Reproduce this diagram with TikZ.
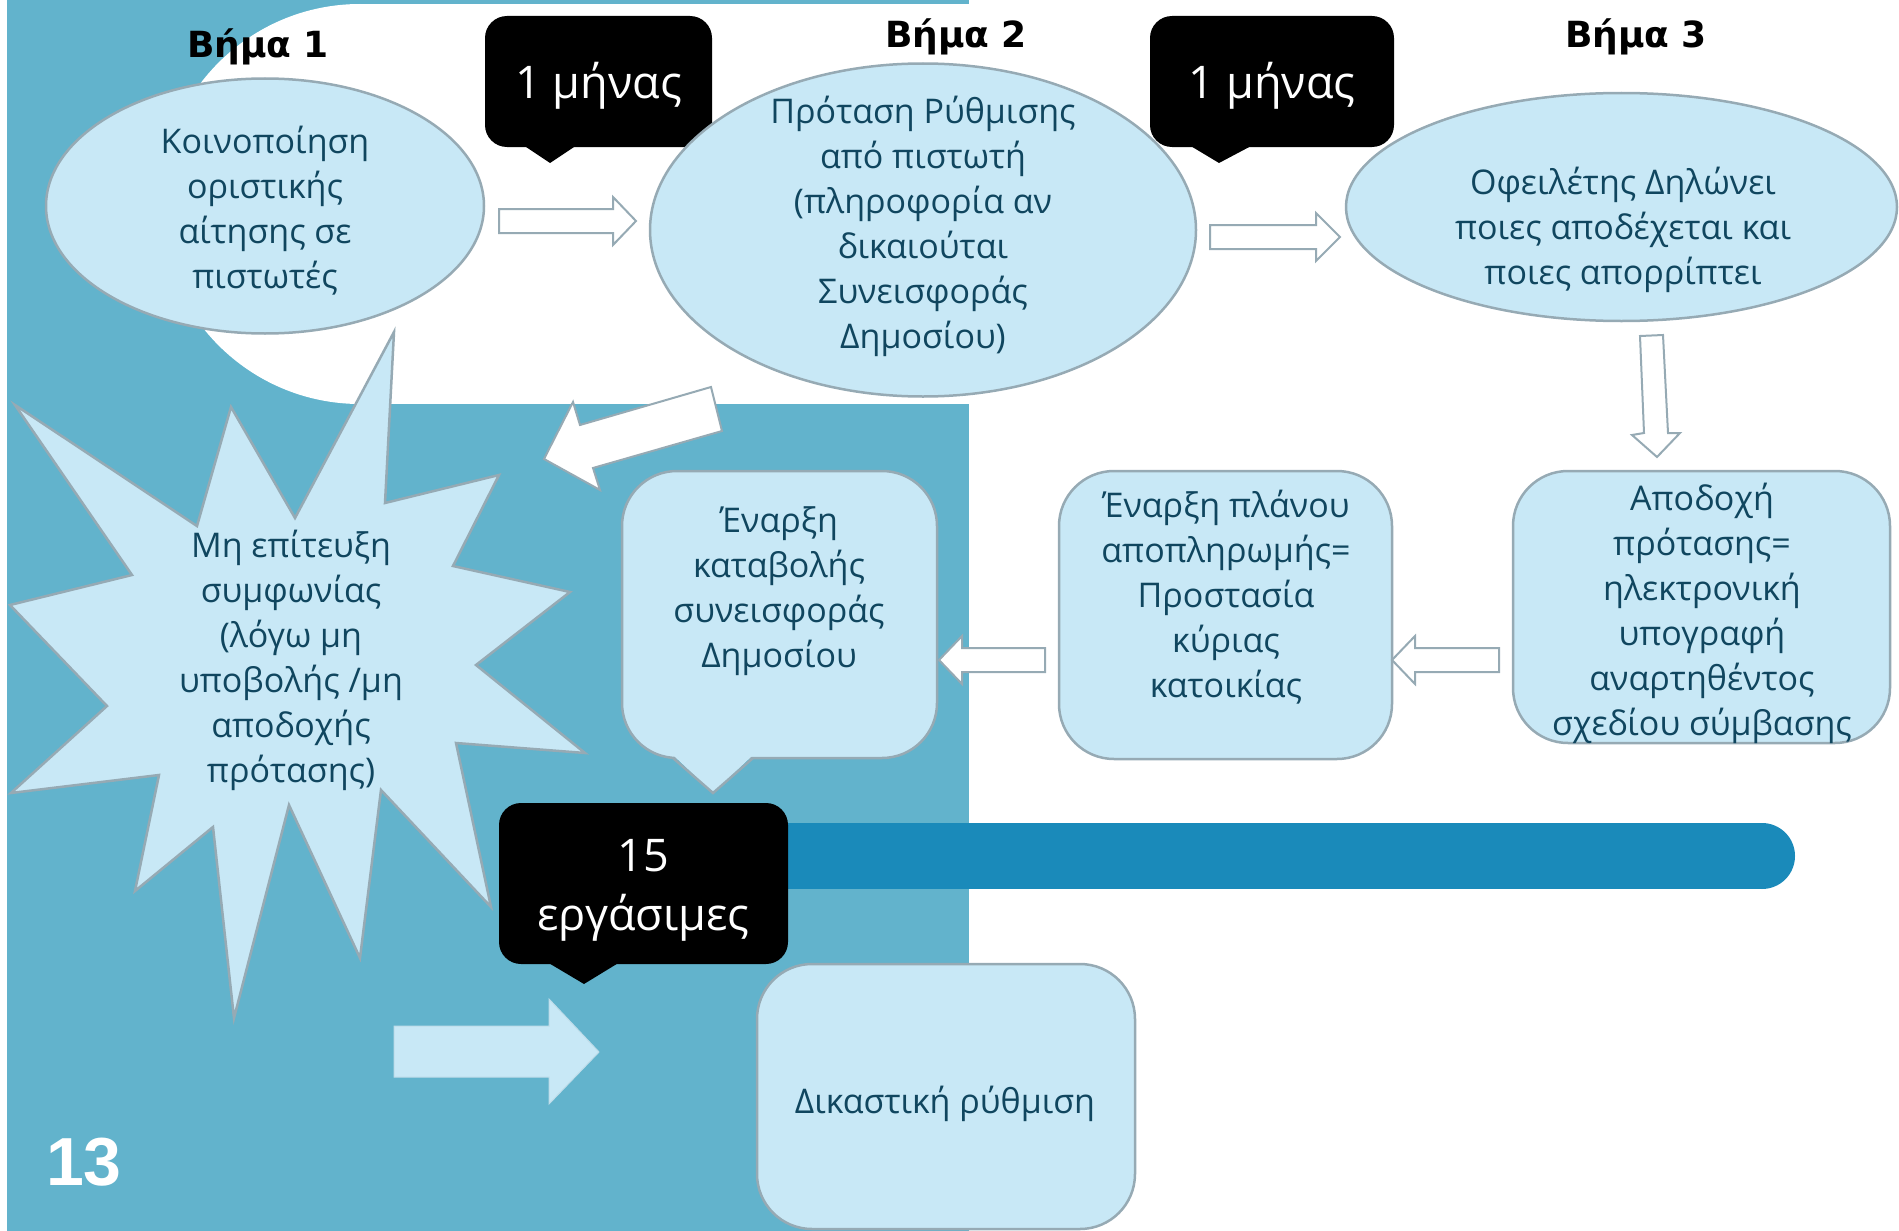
\documentclass[tikz,border=0pt]{standalone}
\usepackage{fontspec}
\setmainfont{Open Sans}
\newfontfamily\stepfont{DejaVu Sans}
\newfontfamily\pagefont{Liberation Sans}
\usetikzlibrary{shapes.geometric}

\definecolor{tealbg}{HTML}{62B3CC}
\definecolor{paleblue}{HTML}{C8E8F6}
\definecolor{edgegray}{HTML}{96AAB4}
\definecolor{inkblue}{HTML}{10465F}
\definecolor{barblue}{HTML}{1A8ABA}

\begin{document}
\begin{tikzpicture}[x=1pt, y=-1pt,
    bubble/.style={ellipse, draw=edgegray, fill=paleblue, line width=2.5pt, inner sep=0pt},
    roundbox/.style={rectangle, rounded corners=55pt, draw=edgegray, fill=paleblue, line width=2.5pt, inner sep=0pt},
    txt/.style={text=inkblue, align=center, inner sep=0pt, font=\fontsize{34}{45}\selectfont},
    tag/.style={rectangle, rounded corners=22pt, fill=black, inner sep=0pt},
    tagtxt/.style={text=white, align=center, inner sep=0pt, font=\fontsize{45}{59}\selectfont},
    hollow/.style={draw=edgegray, fill=white, line width=2pt},
    steptitle/.style={inner sep=0pt, font=\stepfont\bfseries\fontsize{36}{40}\selectfont}]
    \useasboundingbox (0,0) rectangle (1899,1231);

    % background
    \fill[tealbg] (7,0) rectangle (969,1231);
    \fill[white] (360,204) circle (200pt);
    \fill[white] (360,4) rectangle (969,404);

    % time bar and black tags
    \fill[barblue] (700,823) rectangle (1762,889);
    \fill[barblue] (1762,856) circle (33pt);
    \node[tag, minimum width=227pt, minimum height=131pt] (m1) at (598.5,81.5) {};
    \fill (523,145) -- (550,163) -- (577,145) -- cycle;
    \node[tagtxt] (m1t) at (598.5,86) {1 μήνας};
    \node[tag, minimum width=244pt, minimum height=131pt] (m2) at (1272,81.5) {};
    \fill (1189,145) -- (1219,163) -- (1253,145) -- cycle;
    \node[tagtxt] (m2t) at (1272,86) {1 μήνας};
    \node[tag, minimum width=289pt, minimum height=161pt] (d15) at (643.5,883.5) {};
    \fill (547,962) -- (584,984) -- (620,962) -- cycle;
    \node[tagtxt] (d15t) at (643.5,890) {15\\εργάσιμες};

    % step titles
    \node[steptitle] (s1) at (258,47) {Βήμα 1};
    \node[steptitle] (s2) at (956,37) {Βήμα 2};
    \node[steptitle] (s3) at (1636,37) {Βήμα 3};

    % ellipses
    \node[bubble, minimum width=438pt, minimum height=255pt] (e1) at (265,206) {};
    \node[txt] (e1t) at (265,211) {Κοινοποίηση\\οριστικής\\αίτησης σε\\πιστωτές};
    \node[bubble, minimum width=546pt, minimum height=333pt] (e2) at (923,230) {};
    \node[txt] (e2t) at (923,226) {Πρόταση Ρύθμισης\\από πιστωτή\\(πληροφορία αν\\δικαιούται\\Συνεισφοράς\\Δημοσίου)};
    \node[bubble, minimum width=551pt, minimum height=228pt] (e3) at (1621.5,207) {};
    \node[txt] (e3t) at (1623,230) {Οφειλέτης Δηλώνει\\ποιες αποδέχεται και\\ποιες απορρίπτει};

    % starburst
    \draw[fill=paleblue, draw=edgegray, line width=2.5pt, line join=miter]
      (394,332) -- (385,503) -- (499,475) -- (453,566) -- (570,592) -- (476,665)
      -- (585,753) -- (456,743) -- (491,907) -- (381,790) -- (360,958) -- (289,805)
      -- (234,1018) -- (213,827) -- (135,891) -- (159,775) -- (11,793) -- (107,706)
      -- (10,605) -- (132,575) -- (15,405) -- (197,526) -- (231,407) -- (295,518) -- cycle;
    \node[txt] (fail) at (291,660) {Μη επίτευξη\\συμφωνίας\\(λόγω μη\\υποβολής /μη\\αποδοχής\\πρότασης)};

    % boxes
    \node[roundbox, minimum width=377pt, minimum height=272pt] (accept) at (1701.5,607) {};
    \node[txt] (acceptt) at (1702,613) {Αποδοχή\\πρότασης=\\ηλεκτρονική\\υπογραφή\\αναρτηθέντος\\σχεδίου σύμβασης};
    \node[roundbox, minimum width=333pt, minimum height=288pt] (plan) at (1225.5,615) {};
    \node[txt] (plant) at (1226,597) {Έναρξη πλάνου\\αποπληρωμής=\\Προστασία\\κύριας\\κατοικίας};
    \node[roundbox, minimum width=315pt, minimum height=287pt] (pay) at (779.5,614.5) {};
    \fill[paleblue] (673,755) -- (713,793) -- (753,755) -- cycle;
    \draw[edgegray, line width=2.5pt] (673,758) -- (713,793) -- (753,758);
    \node[txt] (payt) at (779,591) {Έναρξη\\καταβολής\\συνεισφοράς\\Δημοσίου};
    \node[roundbox, minimum width=378pt, minimum height=265pt] (court) at (946,1096.5) {};
    \node[txt] (courtt) at (945,1104) {Δικαστική ρύθμιση};

    % block arrows
    \draw[hollow] (499,209) -- (613,209) -- (613,197) -- (636,221) -- (613,245) -- (613,233) -- (499,233) -- cycle;
    \draw[hollow] (1210,225) -- (1316,225) -- (1316,213) -- (1340,237) -- (1316,261) -- (1316,249) -- (1210,249) -- cycle;
    \draw[hollow] (1640,336) -- (1663,335) -- (1668,433) -- (1680,433) -- (1657,457) -- (1632,435) -- (1644,433) -- cycle;
    \draw[hollow] (1499,648) -- (1415,648) -- (1415,636) -- (1392,660) -- (1415,684) -- (1415,672) -- (1499,672) -- cycle;
    \draw[hollow] (1045,648) -- (962,648) -- (962,636) -- (939,660) -- (962,684) -- (962,672) -- (1045,672) -- cycle;
    \draw[hollow] (711,387) -- (722,431) -- (593,468) -- (600,490) -- (544,459) -- (573,402) -- (580,425) -- cycle;
    \draw[fill=paleblue, draw=paleblue!80!edgegray, line width=1pt] (394,1026) -- (549,1026) -- (549,999) -- (599,1052) -- (549,1104) -- (549,1077) -- (394,1077) -- cycle;

    % page number
    \node[text=white, inner sep=0pt, font=\pagefont\bfseries\fontsize{68}{70}\selectfont] (page) at (84,1162) {13};
\end{tikzpicture}
\end{document}
